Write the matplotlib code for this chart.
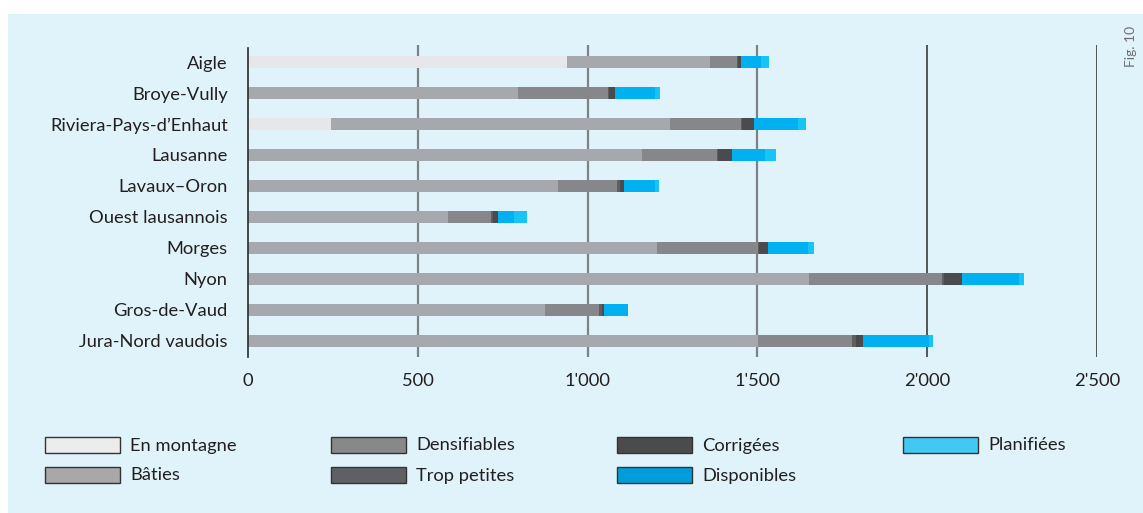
import numpy as np
import matplotlib
matplotlib.use("Agg")
import matplotlib.pyplot as plt
from matplotlib.patches import Rectangle
from matplotlib.ticker import FuncFormatter

plt.rcParams['font.family'] = ['Lato', 'DejaVu Sans']

# Surfaces par district (ha)
districts = ["Aigle", "Broye-Vully", "Riviera-Pays-d\u2019Enhaut", "Lausanne", "Lavaux\u2013Oron",
             "Ouest lausannois", "Morges", "Nyon", "Gros-de-Vaud", "Jura-Nord vaudois"]
en_montagne = [940, 0, 244, 0, 0, 0, 0, 0, 0, 0]
baties = [419, 796, 1000, 1159, 914, 589, 1203, 1652, 876, 1503]
densifiables = [80, 265, 207, 221, 174, 128, 299, 391, 159, 276]
trop_petites = [3, 3, 5, 5, 6, 3, 3, 6, 6, 12]
corrigees = [9, 18, 33, 39, 14, 16, 25, 53, 8, 21]
disponibles = [59, 115, 130, 97, 89, 48, 120, 167, 71, 193]
planifiees = [23, 17, 23, 35, 12, 37, 18, 17, 0, 12]

series = [
    ("En montagne", en_montagne, "#e5e7ea"),
    ("Bâties", baties, "#a5a8ac"),
    ("Densifiables", densifiables, "#86878b"),
    ("Trop petites", trop_petites, "#5e5f63"),
    ("Corrigées", corrigees, "#4a4b4d"),
    ("Disponibles", disponibles, "#00b0f0"),
    ("Planifiées", planifiees, "#18c3f5"),
]
legend_colors = ["#ececec", "#a8a8a8", "#888888", "#5f6064", "#4b4b4d", "#009ddc", "#42c8f2"]

W, H = 1143, 513
bg = "#e0f3fa"
txt = "#231f20"
fig = plt.figure(figsize=(W / 100, H / 100), dpi=100)
fig.patch.set_facecolor("white")
fig.add_artist(Rectangle((8 / W, 0), 1 - 8 / W, 1 - 14 / H,
                         transform=fig.transFigure, facecolor=bg, edgecolor="none", zorder=0))

ax = fig.add_axes([248 / W, 1 - 357 / H, 849 / W, 312 / H])
ax.set_facecolor("none")

y = np.arange(len(districts))
left = np.zeros(len(districts))
for name, vals, col in series:
    vals = np.array(vals, dtype=float)
    ax.barh(y, vals, left=left, height=0.41, color=col, linewidth=0, zorder=2)
    left += vals

# lignes de repère
for v in [500, 1000, 1500]:
    ax.axvline(v, color="#7d8287", linewidth=1.6, zorder=1)
for v in [2000, 2500]:
    ax.axvline(v, color="#2b2b2b", linewidth=1.1, zorder=1)
ax.plot([0, 0], [9.52, -0.45], color="#2b2b2b", linewidth=1.2, zorder=3, clip_on=False)

ax.set_xlim(0, 2500)
ax.set_ylim(9.52, -0.55)
ax.set_yticks(y)
ax.set_yticklabels(districts)
ax.set_xticks([0, 500, 1000, 1500, 2000, 2500])
ax.xaxis.set_major_formatter(FuncFormatter(lambda v, p: f"{int(v):,}".replace(",", "'")))
ax.tick_params(axis="both", length=0, labelsize=13.2, colors=txt)
ax.tick_params(axis="y", pad=14.5)
ax.tick_params(axis="x", pad=11.5)
for s in ax.spines.values():
    s.set_visible(False)

# légende en quatre colonnes
col_x = [45, 331, 617, 903]
row_y = [437, 467]
for i, (name, _, _) in enumerate(series):
    cx = col_x[i // 2]
    ry = row_y[i % 2]
    fig.add_artist(Rectangle((cx / W, 1 - (ry + 16) / H), 75 / W, 16 / H,
                             transform=fig.transFigure, facecolor=legend_colors[i],
                             edgecolor="#333333", linewidth=1.0, zorder=2))
    fig.text((cx + 85) / W, 1 - (ry + 8.5) / H, name, ha="left", va="center",
             fontsize=13.2, color=txt)

fig.text(1131 / W, 1 - 46 / H, "Fig. 10", rotation=90, ha="center", va="center",
         fontsize=10, color="#6d6e71")

fig.savefig("out.png", dpi=100)
